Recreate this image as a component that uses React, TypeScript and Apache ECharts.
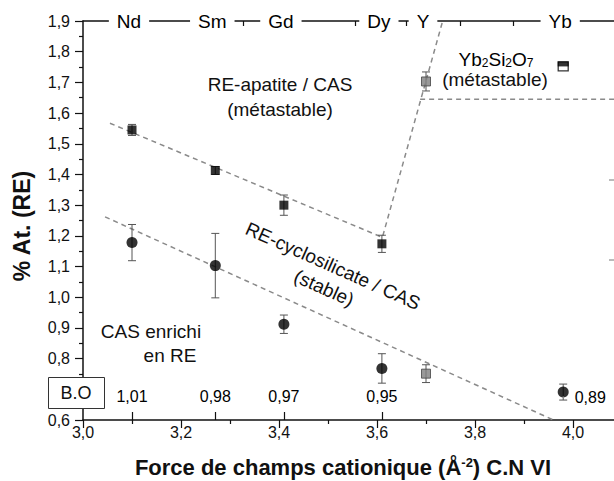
import React, { useEffect, useRef } from 'react';
import * as echarts from 'echarts';

// Rare-earth elements and their cationic field strength (Å^-2), C.N VI
const elements = ['Nd', 'Sm', 'Gd', 'Dy', 'Y', 'Yb'];
const fieldStrength = [3.10, 3.27, 3.41, 3.61, 3.70, 3.98];

// RE-apatite / CAS (black squares): Nd, Sm, Gd, Dy
const apatiteX = [3.10, 3.27, 3.41, 3.61];
const apatiteY = [1.545, 1.413, 1.300, 1.174];
const apatiteErr = [0.018, 0.013, 0.033, 0.028];

// CAS enrichi en RE (black circles): Nd, Sm, Gd, Dy, Yb
const casX = [3.10, 3.27, 3.41, 3.61, 3.98];
const casY = [1.178, 1.103, 0.912, 0.768, 0.691];
const casErr = [0.059, 0.105, 0.030, 0.048, 0.026];

// Y (grey squares)
const yttriumX = [3.70, 3.70];
const yttriumY = [1.703, 0.751];
const yttriumErr = [0.031, 0.029];

// Yb2Si2O7 (half-filled square)
const ybSilicateX = [3.98];
const ybSilicateY = [1.752];

// Optical basicity (B.O) values
const boLabels = ['1,01', '0,98', '0,97', '0,95', '0,89'];
const boX = [3.10, 3.27, 3.41, 3.61, 3.98];

// Dashed boundary lines
const apatiteTrendX = [3.055, 3.611, 3.734];
const apatiteTrendY = [1.567, 1.195, 1.9];
const ybBoundaryX = [3.688, 4.2];
const ybBoundaryY = [1.645, 1.645];
const cycloTrendX = [3.045, 3.96];
const cycloTrendY = [1.262, 0.6];

// Tick positions of the upper axis
const topTickValues = [3.22, 3.328, 3.556, 3.66, 3.77, 3.879];

const FONT = "'Liberation Sans', Arial, Helvetica, sans-serif";
const BO_Y = 0.675;
const ELEMENT_Y = 1.9;
const X_LAST_SHOWN = 4.0;

const comma1 = (v: number) => v.toFixed(1).replace('.', ',');
const xLabel = (v: number) => (v > X_LAST_SHOWN + 1e-6 ? '' : comma1(v));
const yLabel = (v: number) => (Math.abs(v - 0.7) < 1e-6 ? '' : comma1(v));
const zip = (xs: number[], ys: number[]) => xs.map((x, i) => [x, ys[i]]);
const errData = (xs: number[], ys: number[], es: number[]) =>
  xs.map((x, i) => [x, ys[i] - es[i], ys[i] + es[i]]);

const errorRender = (params: any, api: any) => {
  const x = api.value(0);
  const lo = api.coord([x, api.value(1)]);
  const hi = api.coord([x, api.value(2)]);
  const cw = 4;
  const style = { stroke: '#555', lineWidth: 1 };
  return {
    type: 'group',
    children: [
      { type: 'line', shape: { x1: lo[0], y1: lo[1], x2: hi[0], y2: hi[1] }, style },
      { type: 'line', shape: { x1: lo[0] - cw, y1: lo[1], x2: lo[0] + cw, y2: lo[1] }, style },
      { type: 'line', shape: { x1: hi[0] - cw, y1: hi[1], x2: hi[0] + cw, y2: hi[1] }, style },
    ],
  };
};

const dashStyle = { color: '#8a8a8a', width: 1.5, type: [5, 4] as any };

const textLabel = {
  show: true,
  position: 'inside',
  formatter: '{b}',
  color: '#000',
  fontFamily: FONT,
  textBorderWidth: 0,
  textBorderColor: 'transparent',
  opacity: 1,
};

export default function App() {
  const ref = useRef<HTMLDivElement>(null);
  useEffect(() => {
    if (!ref.current) return;
    const chart = echarts.init(ref.current, null, { renderer: 'svg' });
    const axisCommon = {
      min: 3.0,
      max: 4.2,
      splitLine: { show: false },
    };
    const option: any = {
      animation: false,
      textStyle: { fontFamily: FONT },
      grid: { left: 83, top: 21, bottom: 61, right: -57, outerBoundsMode: 'none', containLabel: false },
      xAxis: [
        {
          ...axisCommon,
          type: 'value',
          position: 'bottom',
          interval: 0.2,
          axisLine: { lineStyle: { color: '#111', width: 1.5 } },
          axisTick: { show: true, inside: false, length: 8, lineStyle: { color: '#111', width: 1.2 } },
          minorTick: { show: true, splitNumber: 2, length: 4, lineStyle: { color: '#111', width: 1.2 } },
          axisLabel: { fontSize: 16, color: '#111', margin: 4, formatter: xLabel, fontFamily: FONT },
        },
        {
          ...axisCommon,
          type: 'value',
          position: 'top',
          axisLine: { lineStyle: { color: '#111', width: 1.5 } },
          axisTick: {
            show: true,
            inside: true,
            length: 5,
            customValues: topTickValues,
            lineStyle: { color: '#111', width: 1.2 },
          },
          axisLabel: { show: false },
        },
        {
          ...axisCommon,
          type: 'value',
          position: 'bottom',
          axisLine: { show: false },
          axisTick: {
            show: true,
            inside: true,
            length: 8,
            customValues: fieldStrength.slice(0, 4),
            lineStyle: { color: '#111', width: 1.2 },
          },
          axisLabel: { show: false },
        },
      ],
      yAxis: {
        type: 'value',
        min: 0.6,
        max: 1.9,
        interval: 0.1,
        splitLine: { show: false },
        axisLine: { show: true, lineStyle: { color: '#111', width: 1.5 } },
        axisTick: { show: true, inside: false, length: 8, lineStyle: { color: '#111', width: 1.2 } },
        minorTick: { show: true, splitNumber: 2, length: 4, lineStyle: { color: '#111', width: 1.2 } },
        axisLabel: { fontSize: 16, color: '#111', margin: 13, formatter: yLabel, fontFamily: FONT },
      },
      series: [
        {
          type: 'line',
          data: zip(apatiteTrendX, apatiteTrendY),
          symbol: 'none',
          lineStyle: dashStyle,
          z: 1,
          silent: true,
        },
        {
          type: 'line',
          data: zip(ybBoundaryX, ybBoundaryY),
          symbol: 'none',
          lineStyle: dashStyle,
          z: 1,
          silent: true,
        },
        {
          type: 'line',
          data: zip(cycloTrendX, cycloTrendY),
          symbol: 'none',
          lineStyle: dashStyle,
          z: 1,
          silent: true,
        },
        {
          type: 'custom',
          renderItem: errorRender,
          encode: { x: 0, y: [1, 2] },
          data: [
            ...errData(apatiteX, apatiteY, apatiteErr),
            ...errData(casX, casY, casErr),
            ...errData(yttriumX, yttriumY, yttriumErr),
          ],
          z: 2,
          silent: true,
        },
        {
          type: 'scatter',
          data: zip(apatiteX, apatiteY),
          symbol: 'rect',
          symbolSize: 9,
          itemStyle: { color: '#000' },
          z: 3,
        },
        {
          type: 'scatter',
          data: zip(casX, casY),
          symbol: 'circle',
          symbolSize: 11,
          itemStyle: { color: '#000' },
          z: 3,
        },
        {
          type: 'scatter',
          data: zip(yttriumX, yttriumY),
          symbol: 'rect',
          symbolSize: 9,
          itemStyle: { color: '#808080', borderColor: '#444', borderWidth: 1 },
          z: 3,
        },
        {
          type: 'scatter',
          data: zip(ybSilicateX, ybSilicateY),
          symbol: 'rect',
          symbolSize: [10, 9],
          itemStyle: { color: '#fff', borderColor: '#000', borderWidth: 1.2 },
          z: 3,
        },
        {
          type: 'scatter',
          data: zip(ybSilicateX, ybSilicateY),
          symbol: 'rect',
          symbolSize: [11, 5],
          symbolOffset: [0, -2.5],
          itemStyle: { color: '#000' },
          z: 4,
        },
        {
          type: 'scatter',
          clip: false,
          silent: true,
          symbolSize: 1,
          itemStyle: { color: '#fff', opacity: 1 },
          data: fieldStrength.map((x, i) => ({ value: [x, ELEMENT_Y], name: elements[i] })),
          label: {
            ...textLabel,
            fontSize: 19,
            backgroundColor: '#fff',
            padding: [2, 8],
            offset: [-3, 0],
          },
          z: 5,
        },
        {
          type: 'scatter',
          clip: false,
          silent: true,
          symbolSize: 1,
          itemStyle: { color: '#fff', opacity: 1 },
          data: boX.map((x, i) => ({
            value: [x, BO_Y],
            name: boLabels[i],
            label: i === boX.length - 1 ? { offset: [27, 1] } : undefined,
          })),
          label: { ...textLabel, fontSize: 16 },
          z: 5,
        },
      ],
      graphic: [
        {
          type: 'text',
          x: 22,
          y: 226,
          rotation: Math.PI / 2,
          style: {
            text: '% At. (RE)',
            font: `bold 23px ${FONT}`,
            fill: '#111',
            align: 'center',
            verticalAlign: 'middle',
          },
        },
        {
          type: 'text',
          x: 343,
          y: 467,
          style: {
            text: '{a|Force de champs cationique (Å}{s|-2}{a|) C.N VI}',
            align: 'center',
            verticalAlign: 'middle',
            rich: {
              a: { fontSize: 22, fontWeight: 'bold', fontFamily: FONT, fill: '#111', color: '#111', verticalAlign: 'bottom' },
              s: { fontSize: 13, fontWeight: 'bold', fontFamily: FONT, fill: '#111', color: '#111', verticalAlign: 'top' },
            },
          },
        },
        {
          type: 'text', x: 280, y: 84,
          style: { text: 'RE-apatite / CAS', font: `19px ${FONT}`, fill: '#111', align: 'center', verticalAlign: 'middle' },
        },
        {
          type: 'text', x: 280, y: 109,
          style: { text: '(métastable)', font: `19px ${FONT}`, fill: '#111', align: 'center', verticalAlign: 'middle' },
        },
        {
          type: 'text', x: 496, y: 59,
          style: {
            text: '{a|Yb}{b|2}{a|Si}{b|2}{a|O}{b|7}',
            align: 'center',
            verticalAlign: 'middle',
            rich: {
              a: { fontSize: 19, fontFamily: FONT, color: '#111', verticalAlign: 'bottom' },
              b: { fontSize: 12, fontFamily: FONT, color: '#111', verticalAlign: 'bottom' },
            },
          },
        },
        {
          type: 'text', x: 495, y: 79,
          style: { text: '(métastable)', font: `19px ${FONT}`, fill: '#111', align: 'center', verticalAlign: 'middle' },
        },
        {
          type: 'text', x: 333, y: 266, rotation: (-24 * Math.PI) / 180,
          style: { text: 'RE-cyclosilicate / CAS', font: `19px ${FONT}`, fill: '#111', align: 'center', verticalAlign: 'middle' },
        },
        {
          type: 'text', x: 324, y: 288, rotation: (-24 * Math.PI) / 180,
          style: { text: '(stable)', font: `19px ${FONT}`, fill: '#111', align: 'center', verticalAlign: 'middle' },
        },
        {
          type: 'text', x: 151, y: 331,
          style: { text: 'CAS enrichi', font: `19px ${FONT}`, fill: '#111', align: 'center', verticalAlign: 'middle' },
        },
        {
          type: 'text', x: 170, y: 355,
          style: { text: 'en RE', font: `19px ${FONT}`, fill: '#111', align: 'center', verticalAlign: 'middle' },
        },
        {
          type: 'rect', z: 100,
          shape: { x: 48.5, y: 377.5, width: 56, height: 31 },
          style: { fill: '#fff', stroke: '#333', lineWidth: 1 },
        },
        {
          type: 'text', x: 76, y: 393, z: 101,
          style: { text: 'B.O', font: `18px ${FONT}`, fill: '#111', align: 'center', verticalAlign: 'middle' },
        },
        {
          type: 'line', shape: { x1: 609, y1: 180, x2: 614, y2: 180 }, style: { stroke: '#777', lineWidth: 1 },
        },
        {
          type: 'line', shape: { x1: 609, y1: 260, x2: 614, y2: 260 }, style: { stroke: '#777', lineWidth: 1 },
        },
      ],
    };
    chart.setOption(option);
    return () => chart.dispose();
  }, []);
  return (
    <div
      ref={ref}
      style={{ position: 'absolute', left: 0, top: 0, width: 614, height: 481, background: '#fff' }}
    />
  );
}
